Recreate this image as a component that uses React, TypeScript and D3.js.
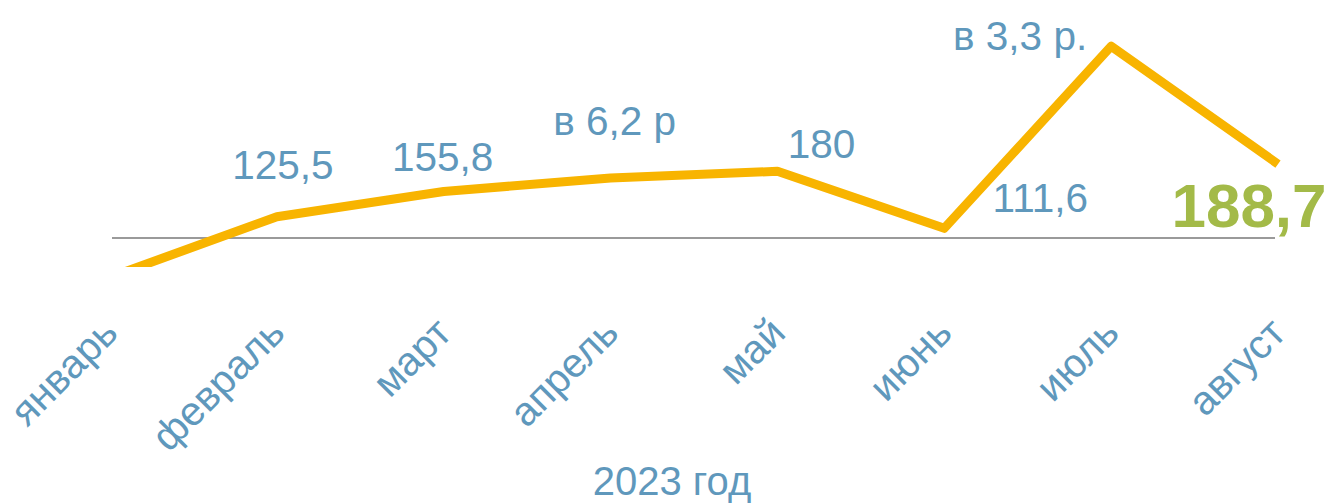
import React from "react";
import * as d3 from "d3";

const months = ["январь", "февраль", "март", "апрель", "май", "июнь", "июль", "август"];
const values = [53, 125.5, 155.8, 172, 180, 111.6, 330, 188.7];
const labelTexts = ["", "125,5", "155,8", "в 6,2 р", "180", "111,6", "в 3,3 р.", "188,7"];
const axisTitle = "2023 год";

const W = 1328;
const H = 504;
const BLUE = "#5F98BC";
const GOLD = "#F8B400";
const GREEN = "#A3BA48";

// label offsets relative to the point [dx, baseline y]
const labelPos: [number, number][] = [
  [0, 0],
  [6, 179],
  [-1, 171],
  [4, 135],
  [44, 158],
  [96, 212],
  [-91, 50],
  [-29, 227],
];

export default function App() {
  const x = d3.scalePoint<string>().domain(months).range([110, 1278]);
  const y = d3.scaleLinear().domain([100, 330]).range([238, 46.3]);
  const line = d3
    .line<number>()
    .x((_, i) => x(months[i]) as number)
    .y((d) => y(d));
  const clipBottom = y(65.2);

  return (
    <svg
      width={W}
      height={H}
      style={{ position: "absolute", left: 0, top: 0, background: "#fff" }}
      fontFamily="'Liberation Sans', Arial, sans-serif"
    >
      <defs>
        <clipPath id="plotClip">
          <rect x={0} y={0} width={W} height={clipBottom} />
        </clipPath>
      </defs>
      <line x1={112} x2={1275} y1={y(100)} y2={y(100)} stroke="#9a9a9a" strokeWidth={2} />
      <path
        d={line(values) || ""}
        fill="none"
        stroke={GOLD}
        strokeWidth={9}
        strokeLinejoin="round"
        clipPath="url(#plotClip)"
      />
      {labelTexts.map((t, i) =>
        t ? (
          <text
            key={"l" + i}
            x={(x(months[i]) as number) + labelPos[i][0]}
            y={labelPos[i][1]}
            textAnchor="middle"
            fontSize={i === 7 ? 62 : 40.5}
            fontWeight={i === 7 ? "bold" : "normal"}
            fill={i === 7 ? GREEN : BLUE}
          >
            {t}
          </text>
        ) : null
      )}
      {months.map((m) => {
        const ax = (x(m) as number) + 10;
        const ay = 335;
        return (
          <text
            key={m}
            x={ax}
            y={ay}
            textAnchor="end"
            fontSize={40.5}
            fill={BLUE}
            transform={`rotate(-45 ${ax} ${ay})`}
          >
            {m}
          </text>
        );
      })}
      <text x={672} y={495} textAnchor="middle" fontSize={40} fill={BLUE}>
        {axisTitle}
      </text>
    </svg>
  );
}
